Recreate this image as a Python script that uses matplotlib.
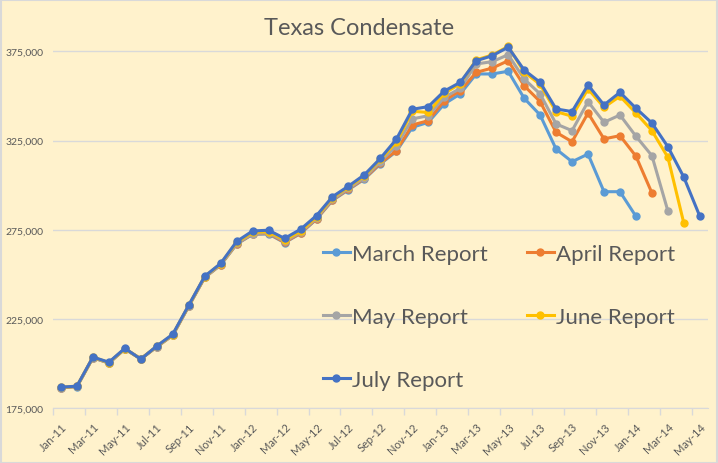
"""Texas condensate production by report month."""

import numpy as np
import matplotlib
matplotlib.use("Agg")
import matplotlib.pyplot as plt
from matplotlib.patches import Rectangle
from matplotlib.ticker import FuncFormatter

plt.rcParams['font.family'] = ['Lato', 'DejaVu Sans']

# months Jan-11 .. May-14
months = ['Jan-11', 'Feb-11', 'Mar-11', 'Apr-11', 'May-11', 'Jun-11', 'Jul-11', 'Aug-11',
          'Sep-11', 'Oct-11', 'Nov-11', 'Dec-11', 'Jan-12', 'Feb-12', 'Mar-12', 'Apr-12',
          'May-12', 'Jun-12', 'Jul-12', 'Aug-12', 'Sep-12', 'Oct-12', 'Nov-12', 'Dec-12',
          'Jan-13', 'Feb-13', 'Mar-13', 'Apr-13', 'May-13', 'Jun-13', 'Jul-13', 'Aug-13',
          'Sep-13', 'Oct-13', 'Nov-13', 'Dec-13', 'Jan-14', 'Feb-14', 'Mar-14', 'Apr-14',
          'May-14']

march = [186500, 187100, 203300, 200300, 208200, 202600, 209400, 215900, 232200, 248300,
         255300, 267000, 272500, 272700, 267800, 273000, 281000, 291500, 297500, 303500,
         312000, 319000, 332500, 335300, 345600, 351200, 362400, 362400, 363900, 348800,
         339400, 320300, 313200, 317500, 296400, 296400, 282600]

april = [186600, 187200, 203400, 200400, 208300, 202700, 209500, 216000, 232300, 248400,
         255500, 267200, 272700, 273000, 268000, 273200, 281200, 291800, 297800, 303800,
         312400, 319400, 333800, 336200, 347400, 353000, 363300, 365700, 369800, 355800,
         346900, 329700, 324400, 340500, 326000, 327800, 316300, 295700]

may = [186600, 187200, 203400, 200400, 208300, 202800, 209500, 216000, 232400, 248500,
       255600, 267400, 272900, 273300, 268600, 273600, 281600, 292200, 298200, 304300,
       313300, 322200, 337200, 339000, 349300, 354300, 368000, 369300, 373200, 359600,
       351200, 334400, 330600, 346900, 335300, 339400, 327500, 316600, 285600]

june = [186700, 187300, 203600, 200600, 208400, 202600, 209700, 216300, 232600, 248800,
        256000, 268000, 273600, 274000, 269300, 274200, 282300, 293000, 299000, 305200,
        314500, 324100, 341500, 340800, 351500, 357000, 370300, 373000, 377800, 363500,
        356500, 341300, 338700, 354000, 343700, 349900, 340500, 330600, 315700, 278700]

july = [186800, 187400, 203700, 200800, 208600, 202500, 209900, 216500, 232800, 249000,
        256200, 268500, 274400, 274800, 270200, 275300, 283000, 293600, 299500, 305900,
        315100, 325800, 342600, 344100, 352800, 357700, 369800, 372600, 377400, 364600,
        357700, 342800, 341300, 356200, 345000, 352100, 343200, 334900, 321600, 304500,
        282600]

series = [('March Report', march, '#5B9BD5'),
          ('April Report', april, '#ED7D31'),
          ('May Report', may, '#A5A5A5'),
          ('June Report', june, '#FFC000'),
          ('July Report', july, '#4472C4')]

bg = '#FFF2CC'
txt = '#595959'
grid = '#D9D9D9'

fig = plt.figure(figsize=(7.18, 4.64), dpi=100, facecolor=bg)
ax = fig.add_axes([0.0738, 0.118, 0.912, 0.865], facecolor=bg)

lines = {}
for name, vals, col in series:
    x = np.arange(len(vals))
    lines[name], = ax.plot(x, vals, color=col, lw=2.2, marker='o', ms=5, label=name,
                           solid_joinstyle='round', zorder=3)

ax.set_xlim(-0.5, len(months) - 0.5)
ax.set_ylim(175000, 400000)
ax.set_yticks([175000, 225000, 275000, 325000, 375000])
ax.yaxis.set_major_formatter(FuncFormatter(lambda v, p: f'{int(v):,}'))
ax.grid(axis='y', color=grid, lw=1)
ax.set_axisbelow(True)

ax.set_xticks(np.arange(0, len(months), 2))
ax.set_xticklabels(months[::2], rotation=45, ha='right', rotation_mode='anchor')
ax.set_xticks(np.arange(-0.5, len(months), 2), minor=True)
ax.tick_params(axis='x', which='major', length=0, pad=9, labelsize=8, labelcolor=txt)
ax.tick_params(axis='x', which='minor', length=5, color=grid, width=1)
ax.tick_params(axis='y', length=0, pad=7, labelsize=7.5, labelcolor=txt)

for s in ['top', 'right', 'left']:
    ax.spines[s].set_visible(False)
ax.spines['bottom'].set_color(grid)

fig.text(0.5, 0.938, 'Texas Condensate', ha='center', va='center',
         fontsize=17, color=txt)

# legend rows: March/April, May/June, July (filled column by column)
order = ['March Report', 'May Report', 'July Report', 'April Report', 'June Report']
leg = ax.legend([lines[n] for n in order], order, ncol=2, loc='upper left',
                bbox_to_anchor=(0.3955, 0.438), frameon=False, fontsize=16,
                handlelength=1.2, handletextpad=0.12, labelspacing=1.95,
                columnspacing=1.75, borderpad=0)
for t in leg.get_texts():
    t.set_color(txt)

fig.patches.append(Rectangle((0.001, 0.001), 0.997, 0.997, transform=fig.transFigure,
                             fill=False, edgecolor=grid, lw=1.5))

fig.savefig('out.png', dpi=100, facecolor=bg)
